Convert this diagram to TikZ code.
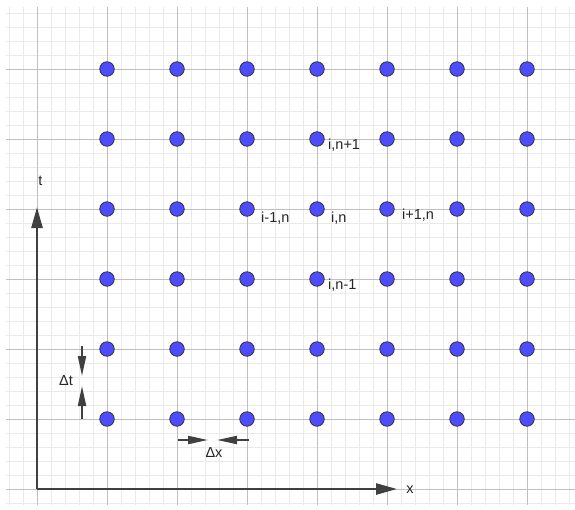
\documentclass[tikz,border=0pt]{standalone}
\usepackage{fontspec}
\setmainfont{Liberation Sans}
\usetikzlibrary{arrows.meta}
\definecolor{dotblue}{RGB}{77,77,255}
\definecolor{minorgrid}{RGB}{234,234,234}
\definecolor{majorgrid}{RGB}{192,192,192}
\definecolor{axisgray}{RGB}{64,64,64}
\begin{document}
\begin{tikzpicture}[x=1pt,y=-1pt,
  dot/.style={circle,draw=black!80,line width=0.8pt,fill=dotblue,minimum size=14.5pt,inner sep=0pt},
  lbl/.style={font=\fontsize{14.5}{15}\selectfont,text=black!85,inner sep=0pt},
  axisline/.style={line width=2.6pt,draw=axisgray,-{Triangle[length=21pt,width=11pt]}},
  deltaarrow/.style={line width=2pt,draw=axisgray,-{Triangle[length=20pt,width=8pt]}},
  minorline/.style={draw=minorgrid,line width=0.7pt},
  majorline/.style={draw=majorgrid,line width=0.9pt}]
\useasboundingbox (0,0) rectangle (575,509);
\fill[white] (0,0) rectangle (575,509);
% minor grid
\foreach \gx in {9,23,...,575} \draw[minorline] (\gx,7) -- (\gx,505);
\foreach \gy in {13,27,...,505} \draw[minorline] (6,\gy) -- (575,\gy);
% major grid
\foreach \gx in {37,107,...,575} \draw[majorline] (\gx,7) -- (\gx,505);
\foreach \gy in {69,139,...,505} \draw[majorline] (6,\gy) -- (575,\gy);
% axes
\coordinate (O) at (37,489);
\coordinate (tend) at (37,207);
\coordinate (xend) at (397,489);
\draw[axisline] (O) -- (tend);
\draw[axisline] (O) -- (xend);
\node[lbl] (tlabel) at (40.5,181) {t};
\node[lbl] (xlabel) at (410,490) {x};
% dots
\foreach \c [count=\ci] in {107,177,...,527}
  \foreach \r [count=\ri] in {69,139,...,419}
    \node[dot] (d\ci-\ri) at (\c,\r) {};
% node labels
\node[lbl,anchor=west] (lnp) at (328,145) {i,n+1};
\node[lbl,anchor=west] (lim) at (261,218) {i-1,n};
\node[lbl,anchor=west] (lin) at (331,218) {i,n};
\node[lbl,anchor=west] (lip) at (402,215) {i+1,n};
\node[lbl,anchor=west] (lnm) at (328,285) {i,n-1};
% delta t
\coordinate (dta) at (82,346);
\coordinate (dtb) at (82,376);
\coordinate (dtc) at (82,419);
\coordinate (dtd) at (82,386);
\draw[deltaarrow] (dta) -- (dtb);
\draw[deltaarrow] (dtc) -- (dtd);
\node[lbl] (dtlabel) at (66,381) {Δt};
% delta x
\coordinate (dxa) at (178,440);
\coordinate (dxb) at (208,440);
\coordinate (dxc) at (249,440);
\coordinate (dxd) at (217,440);
\draw[deltaarrow] (dxa) -- (dxb);
\draw[deltaarrow] (dxc) -- (dxd);
\node[lbl] (dxlabel) at (214,453) {Δx};
\end{tikzpicture}
\end{document}
